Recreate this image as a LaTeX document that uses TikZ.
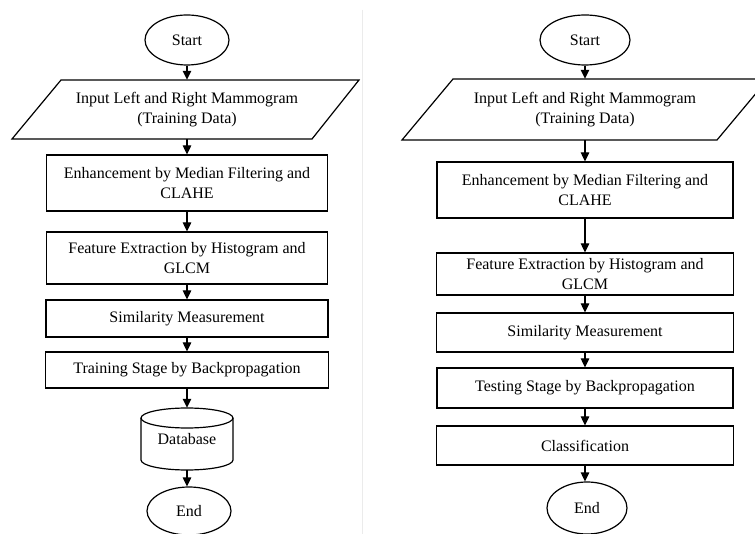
\documentclass[tikz,border=0pt]{standalone}
\usepackage{fontspec}
\setmainfont{Liberation Serif}
\usetikzlibrary{shapes.geometric,arrows.meta,calc}
\begin{document}
\begin{tikzpicture}[x=1pt,y=-1pt,
  every node/.style={font=\fontsize{16}{19.5}\selectfont, inner sep=0pt, align=center},
  term/.style={draw, ellipse, line width=1.2pt},
  proc/.style={draw, rectangle, line width=1.2pt},
  txt/.style={rectangle},
  shapeline/.style={line width=1.2pt, line join=miter},
  flow/.style={line width=1.2pt, -{Triangle[length=9pt,width=8.5pt]}}]
\useasboundingbox (0,0) rectangle (755,534);
\fill[white] (0,0) rectangle (755,534);
% faint separator
\draw[black!8, line width=0.6pt] (362,10) -- (362,534);

% ---------- left column ----------
\node[term, minimum width=84pt, minimum height=50pt] (startL) at (187,40) {Start};
\node[txt, minimum width=240pt, minimum height=59pt] (inL) at (187,109.5)
  {Input Left and Right Mammogram\\(Training Data)};
\draw[shapeline] (61,80) -- (359,80) -- (312,139) -- (12,139) -- cycle;
\node[proc, minimum width=281pt, minimum height=56pt] (enhL) at (187,183)
  {Enhancement by Median Filtering and\\CLAHE};
\node[proc, minimum width=281pt, minimum height=52pt] (featL) at (187,258)
  {Feature Extraction by Histogram and\\GLCM};
\node[proc, minimum width=282pt, minimum height=37pt] (simL) at (187,318.5)
  {Similarity Measurement};
\node[proc, minimum width=283pt, minimum height=36pt] (trainL) at (187,370)
  {Training Stage by Backpropagation};
\node[txt, minimum width=92pt, minimum height=62pt] (dbL) at (187,439) {\raisebox{-4pt}{Database}};
\draw[shapeline] (141,418) -- (141,460) arc[start angle=180, end angle=0, x radius=46, y radius=10]
  -- (233,418);
\draw[shapeline] (187,418) ellipse [x radius=46, y radius=10];
\node[term, minimum width=84pt, minimum height=48pt] (endL) at (189,511) {End};

\draw[flow] (startL) -- (inL);
\draw[flow] (inL) -- (enhL);
\draw[flow] (enhL) -- (featL);
\draw[flow] (featL) -- (simL);
\draw[flow] (simL) -- (trainL);
\draw[flow] (trainL) -- (dbL);
\draw[flow] (dbL.south) -- (dbL.south |- endL.north);

% ---------- right column ----------
\node[term, minimum width=90pt, minimum height=50pt] (startR) at (585,40) {Start};
\node[txt, minimum width=240pt, minimum height=61pt] (inR) at (585,109.5)
  {Input Left and Right Mammogram\\(Training Data)};
\draw[shapeline] (453,79) -- (768,79) -- (717,140) -- (402,140) -- cycle;
\node[proc, minimum width=296pt, minimum height=56pt] (enhR) at (585,190)
  {Enhancement by Median Filtering and\\CLAHE};
\node[proc, minimum width=297pt, minimum height=42pt] (featR) at (585,274)
  {\fontsize{16}{17}\selectfont Feature Extraction by Histogram and\\GLCM};
\node[proc, minimum width=297pt, minimum height=39pt] (simR) at (585,332.5)
  {Similarity Measurement};
\node[proc, minimum width=296pt, minimum height=40pt] (testR) at (585,388)
  {Testing Stage by Backpropagation};
\node[proc, minimum width=297pt, minimum height=39pt] (classR) at (585,445.5)
  {Classification};
\node[term, minimum width=80pt, minimum height=52pt] (endR) at (587,508) {End};

\draw[flow] (startR) -- (inR);
\draw[flow] (inR) -- (enhR);
\draw[flow] (enhR) -- (featR);
\draw[flow] (featR) -- (simR);
\draw[flow] (simR) -- (testR);
\draw[flow] (testR) -- (classR);
\draw[flow] (classR.south) -- (classR.south |- endR.north);
\end{tikzpicture}
\end{document}
